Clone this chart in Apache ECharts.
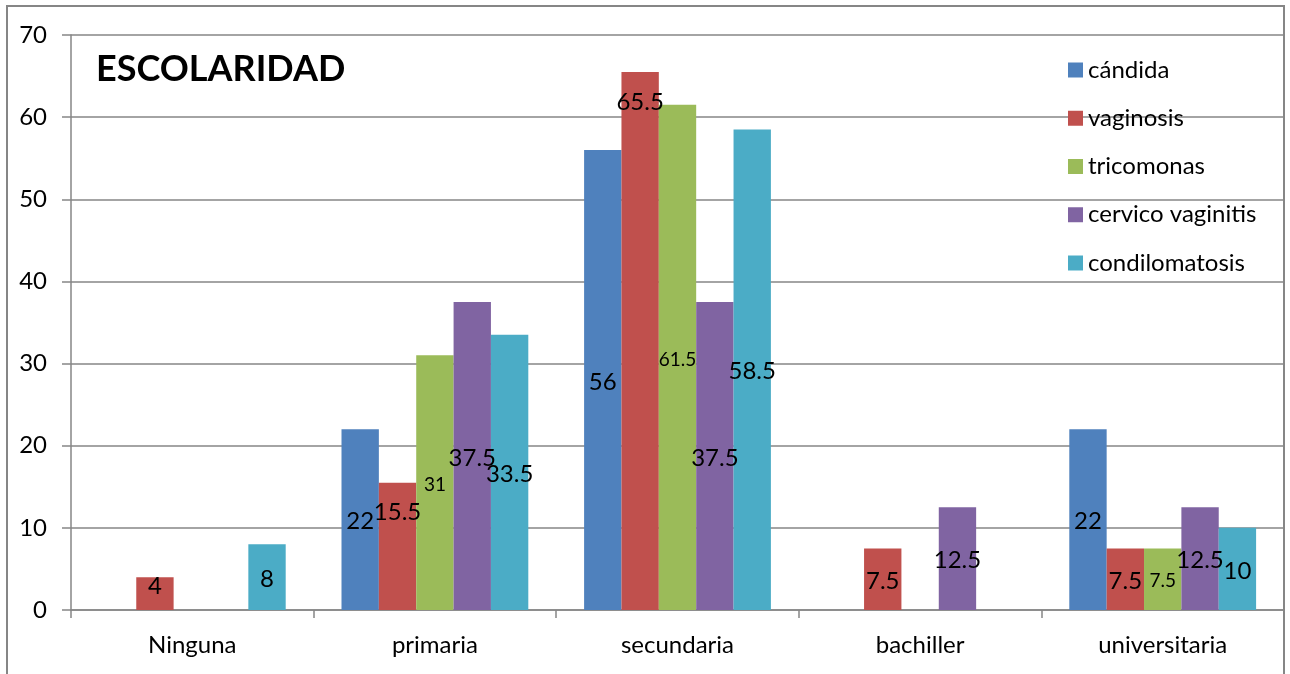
<!DOCTYPE html>
<html>
<head>
<meta charset="utf-8">
<script src="https://cdn.jsdelivr.net/npm/echarts@6/dist/echarts.min.js"></script>
<style>
  html, body { margin: 0; padding: 0; background: #ffffff; }
  #chart { width: 1290px; height: 674px; }
</style>
</head>
<body>
<div id="chart"></div>
<script>
// Education level categories and infection counts per series
const categories = ['Ninguna', 'primaria', 'secundaria', 'bachiller', 'universitaria'];
const seriesNames = ['cándida', 'vaginosis', 'tricomonas', 'cervico vaginitis', 'condilomatosis'];
const candida = [0, 22, 56, 0, 22];
const vaginosis = [4, 15.5, 65.5, 7.5, 7.5];
const tricomonas = [0, 31, 61.5, 0, 7.5];
const cervicoVaginitis = [0, 37.5, 37.5, 12.5, 12.5];
const condilomatosis = [8, 33.5, 58.5, 0, 10];
const yTicks = [0, 10, 20, 30, 40, 50, 60, 70];

const seriesValues = [candida, vaginosis, tricomonas, cervicoVaginitis, condilomatosis];
const colors = ['#4F81BD', '#C0504D', '#9BBB59', '#8064A2', '#4BACC6'];
const FONT = 'Lato';

// A few labels sit near the top of their bar instead of the middle
const topLabels = { '1-1': 18, '1-2': 18, '1-0': -3 };

const series = seriesValues.map((vals, si) => ({
  name: seriesNames[si],
  type: 'bar',
  barGap: '0%',
  barCategoryGap: '23%',
  itemStyle: { color: colors[si] },
  label: {
    show: true,
    position: 'inside',
    offset: [0, 2],
    color: '#000',
    fontFamily: FONT,
    fontSize: si === 2 ? 19 : 24,
    formatter: p => (p.value === 0 ? '' : String(p.value))
  },
  data: vals.map((v, ci) => {
    const key = si + '-' + ci;
    if (key in topLabels) {
      return { value: v, label: { position: 'insideTop', offset: [0, 0], distance: topLabels[key] } };
    }
    return v;
  })
}));

const chart = echarts.init(document.getElementById('chart'), null, { renderer: 'canvas' });
chart.setOption({
  animation: false,
  backgroundColor: '#ffffff',
  graphic: [{
    type: 'rect',
    shape: { x: 7, y: 6, width: 1277, height: 700 },
    style: { fill: 'none', stroke: '#868686', lineWidth: 2 },
    z: -1
  }],
  title: {
    text: 'ESCOLARIDAD',
    left: 91,
    top: 46,
    textStyle: { fontFamily: FONT, fontWeight: 'bold', fontSize: 36, color: '#000' }
  },
  legend: {
    orient: 'vertical',
    left: 1063,
    top: 53,
    itemWidth: 15,
    itemHeight: 15,
    itemGap: 24.25,
    icon: 'rect',
    textStyle: { fontFamily: FONT, fontSize: 24, color: '#000', lineHeight: 24 },
    data: seriesNames
  },
  grid: { left: 71, right: 6, top: 35, bottom: 64, containLabel: false },
  xAxis: {
    type: 'category',
    data: categories,
    axisLine: { lineStyle: { color: '#868686', width: 1.5 } },
    axisTick: { show: true, length: 8, lineStyle: { color: '#868686', width: 1.5 } },
    axisLabel: { fontFamily: FONT, fontSize: 24, color: '#000', margin: 23 }
  },
  yAxis: {
    type: 'value',
    min: yTicks[0],
    max: yTicks[yTicks.length - 1],
    interval: 10,
    axisLine: { show: true, lineStyle: { color: '#868686', width: 1.5 } },
    axisTick: { show: true, length: 9, lineStyle: { color: '#868686', width: 1.5 } },
    axisLabel: { fontFamily: FONT, fontSize: 24, color: '#000', margin: 24 },
    splitLine: { lineStyle: { color: '#868686', width: 1.5 } }
  },
  series: series
});
</script>
</body>
</html>
